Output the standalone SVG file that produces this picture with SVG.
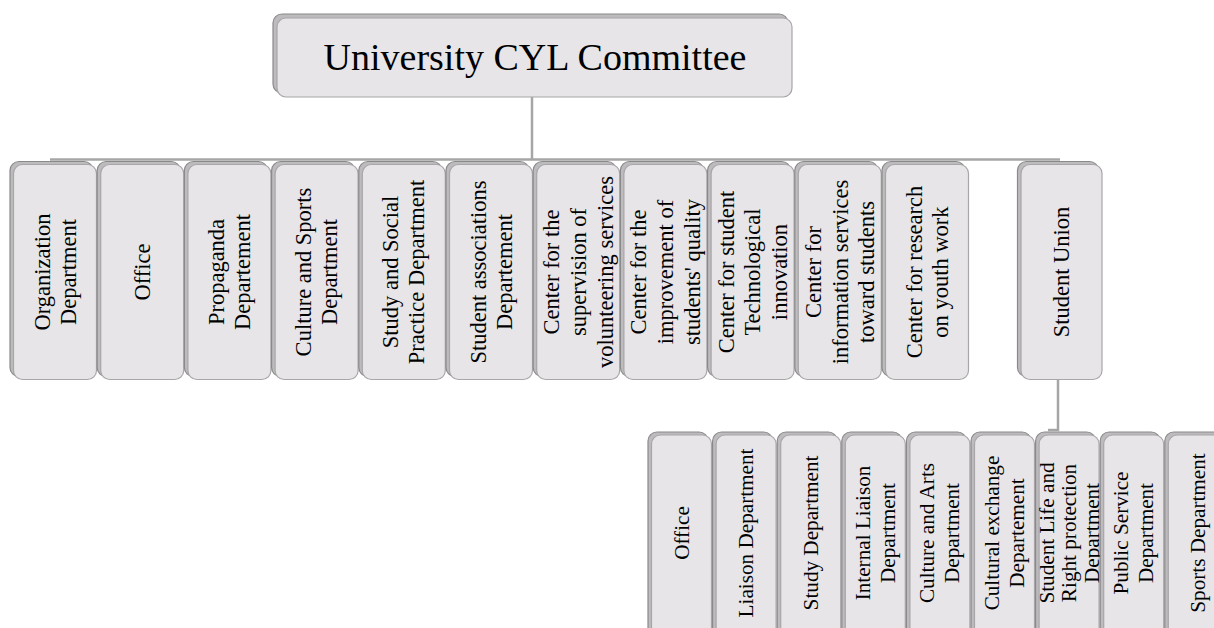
<svg xmlns="http://www.w3.org/2000/svg" width="1214" height="628" viewBox="0 0 1214 628">
<style>
.bk{fill:#bdbbbd;stroke:#8a8a8a;stroke-width:1.2}
.fr{fill:#e7e5e8;stroke:#a8a6a8;stroke-width:1.2}
.t{font-family:"Liberation Serif","Times New Roman",serif;fill:#000;text-anchor:middle}
.u{font-size:22.5px}
.l{font-size:21.2px}
.cn{fill:none;stroke:#a6a6a6;stroke-width:2.5}
</style>
<rect width="1214" height="628" fill="#fff"/>
<g id="connectors">
<path class="cn" d="M532 97V159.5M50 159.5H1060"/>
<path class="cn" d="M1058 380V430H1048"/>
</g>
<g id="n-top">
<rect class="bk" x="273" y="14" width="515" height="79" rx="9"/>
<rect class="fr" x="277" y="18" width="515" height="79" rx="9"/>
<text class="t" x="535" y="70" font-size="38">University CYL Committee</text>
</g>
<g id="n-org">
<rect class="bk" x="10" y="161.5" width="83" height="215" rx="9"/>
<rect class="fr" x="13.5" y="164.5" width="83" height="215" rx="9"/>
<text class="t u" transform="translate(55,272) rotate(-90)"><tspan x="0" y="-5.5">Organization</tspan><tspan x="0" dy="26">Department</tspan></text>
</g>
<g id="n-office">
<rect class="bk" x="97.2" y="161.5" width="83" height="215" rx="9"/>
<rect class="fr" x="100.7" y="164.5" width="83" height="215" rx="9"/>
<text class="t u" transform="translate(142.2,272) rotate(-90)"><tspan x="0" y="7.5">Office</tspan></text>
</g>
<g id="n-prop">
<rect class="bk" x="184.4" y="161.5" width="83" height="215" rx="9"/>
<rect class="fr" x="187.9" y="164.5" width="83" height="215" rx="9"/>
<text class="t u" transform="translate(229.4,272) rotate(-90)"><tspan x="0" y="-5.5">Propaganda</tspan><tspan x="0" dy="26">Departement</tspan></text>
</g>
<g id="n-culsport">
<rect class="bk" x="271.6" y="161.5" width="83" height="215" rx="9"/>
<rect class="fr" x="275.1" y="164.5" width="83" height="215" rx="9"/>
<text class="t u" transform="translate(316.6,272) rotate(-90)"><tspan x="0" y="-5.5">Culture and Sports</tspan><tspan x="0" dy="26">Department</tspan></text>
</g>
<g id="n-study">
<rect class="bk" x="358.8" y="161.5" width="83" height="215" rx="9"/>
<rect class="fr" x="362.3" y="164.5" width="83" height="215" rx="9"/>
<text class="t u" transform="translate(403.8,272) rotate(-90)"><tspan x="0" y="-5.5">Study and Social</tspan><tspan x="0" dy="26">Practice Department</tspan></text>
</g>
<g id="n-assoc">
<rect class="bk" x="446" y="161.5" width="83" height="215" rx="9"/>
<rect class="fr" x="449.5" y="164.5" width="83" height="215" rx="9"/>
<text class="t u" transform="translate(491,272) rotate(-90)"><tspan x="0" y="-5.5">Student associations</tspan><tspan x="0" dy="26">Departement</tspan></text>
</g>
<g id="n-volunteer">
<rect class="bk" x="533.2" y="161.5" width="83" height="215" rx="9"/>
<rect class="fr" x="536.7" y="164.5" width="83" height="215" rx="9"/>
<text class="t u" transform="translate(578.2,272) rotate(-90)"><tspan x="0" y="-19">Center for the</tspan><tspan x="0" dy="26.7">supervision of</tspan><tspan x="0" dy="26.7">volunteering services</tspan></text>
</g>
<g id="n-quality">
<rect class="bk" x="620.4" y="161.5" width="83" height="215" rx="9"/>
<rect class="fr" x="623.9" y="164.5" width="83" height="215" rx="9"/>
<text class="t u" transform="translate(665.4,272) rotate(-90)"><tspan x="0" y="-19">Center for the</tspan><tspan x="0" dy="26.7">improvement of</tspan><tspan x="0" dy="26.7">students' quality</tspan></text>
</g>
<g id="n-tech">
<rect class="bk" x="707.6" y="161.5" width="83" height="215" rx="9"/>
<rect class="fr" x="711.1" y="164.5" width="83" height="215" rx="9"/>
<text class="t u" transform="translate(752.6,272) rotate(-90)"><tspan x="0" y="-19">Center for student</tspan><tspan x="0" dy="26.7">Technological</tspan><tspan x="0" dy="26.7">innovation</tspan></text>
</g>
<g id="n-info">
<rect class="bk" x="794.8" y="161.5" width="83" height="215" rx="9"/>
<rect class="fr" x="798.3" y="164.5" width="83" height="215" rx="9"/>
<text class="t u" transform="translate(839.8,272) rotate(-90)"><tspan x="0" y="-19">Center for</tspan><tspan x="0" dy="26.7">information services</tspan><tspan x="0" dy="26.7">toward students</tspan></text>
</g>
<g id="n-research">
<rect class="bk" x="882" y="161.5" width="83" height="215" rx="9"/>
<rect class="fr" x="885.5" y="164.5" width="83" height="215" rx="9"/>
<text class="t u" transform="translate(927,272) rotate(-90)"><tspan x="0" y="-5.5">Center for research</tspan><tspan x="0" dy="26">on youth work</tspan></text>
</g>
<g id="n-union">
<rect class="bk" x="1017.5" y="161.5" width="81" height="215" rx="9"/>
<rect class="fr" x="1021" y="164.5" width="81" height="215" rx="9"/>
<text class="t u" transform="translate(1061.5,272) rotate(-90)"><tspan x="0" y="7.5">Student Union</tspan></text>
</g>
<g id="s-office">
<rect class="bk" x="648" y="432" width="60" height="210" rx="9"/>
<rect class="fr" x="651.5" y="435" width="60" height="210" rx="9"/>
<text class="t l" transform="translate(681.5,533) rotate(-90)"><tspan x="0" y="7">Office</tspan></text>
</g>
<g id="s-liaison">
<rect class="bk" x="712.6" y="432" width="60" height="210" rx="9"/>
<rect class="fr" x="716.1" y="435" width="60" height="210" rx="9"/>
<text class="t l" transform="translate(746.1,533) rotate(-90)"><tspan x="0" y="7">Liaison Department</tspan></text>
</g>
<g id="s-study">
<rect class="bk" x="777.2" y="432" width="60" height="210" rx="9"/>
<rect class="fr" x="780.7" y="435" width="60" height="210" rx="9"/>
<text class="t l" transform="translate(810.7,533) rotate(-90)"><tspan x="0" y="7">Study Department</tspan></text>
</g>
<g id="s-internal">
<rect class="bk" x="841.8" y="432" width="60" height="210" rx="9"/>
<rect class="fr" x="845.3" y="435" width="60" height="210" rx="9"/>
<text class="t l" transform="translate(875.3,533) rotate(-90)"><tspan x="0" y="-5.5">Internal Liaison</tspan><tspan x="0" dy="25">Department</tspan></text>
</g>
<g id="s-arts">
<rect class="bk" x="906.4" y="432" width="60" height="210" rx="9"/>
<rect class="fr" x="909.9" y="435" width="60" height="210" rx="9"/>
<text class="t l" transform="translate(939.9,533) rotate(-90)"><tspan x="0" y="-5.5">Culture and Arts</tspan><tspan x="0" dy="25">Department</tspan></text>
</g>
<g id="s-exchange">
<rect class="bk" x="971" y="432" width="60" height="210" rx="9"/>
<rect class="fr" x="974.5" y="435" width="60" height="210" rx="9"/>
<text class="t l" transform="translate(1004.5,533) rotate(-90)"><tspan x="0" y="-5.5">Cultural exchange</tspan><tspan x="0" dy="25">Departement</tspan></text>
</g>
<g id="s-life">
<rect class="bk" x="1035.6" y="432" width="60" height="210" rx="9"/>
<rect class="fr" x="1039.1" y="435" width="60" height="210" rx="9"/>
<text class="t l" transform="translate(1069.1,533) rotate(-90)"><tspan x="0" y="-15.5">Student Life and</tspan><tspan x="0" dy="22.5">Right protection</tspan><tspan x="0" dy="22.5">Department</tspan></text>
</g>
<g id="s-public">
<rect class="bk" x="1100.2" y="432" width="60" height="210" rx="9"/>
<rect class="fr" x="1103.7" y="435" width="60" height="210" rx="9"/>
<text class="t l" transform="translate(1133.7,533) rotate(-90)"><tspan x="0" y="-5.5">Public Service</tspan><tspan x="0" dy="25">Department</tspan></text>
</g>
<g id="s-sports">
<rect class="bk" x="1164.8" y="432" width="60" height="210" rx="9"/>
<rect class="fr" x="1168.3" y="435" width="60" height="210" rx="9"/>
<text class="t l" transform="translate(1198.3,533) rotate(-90)"><tspan x="0" y="7">Sports Department</tspan></text>
</g>
</svg>
